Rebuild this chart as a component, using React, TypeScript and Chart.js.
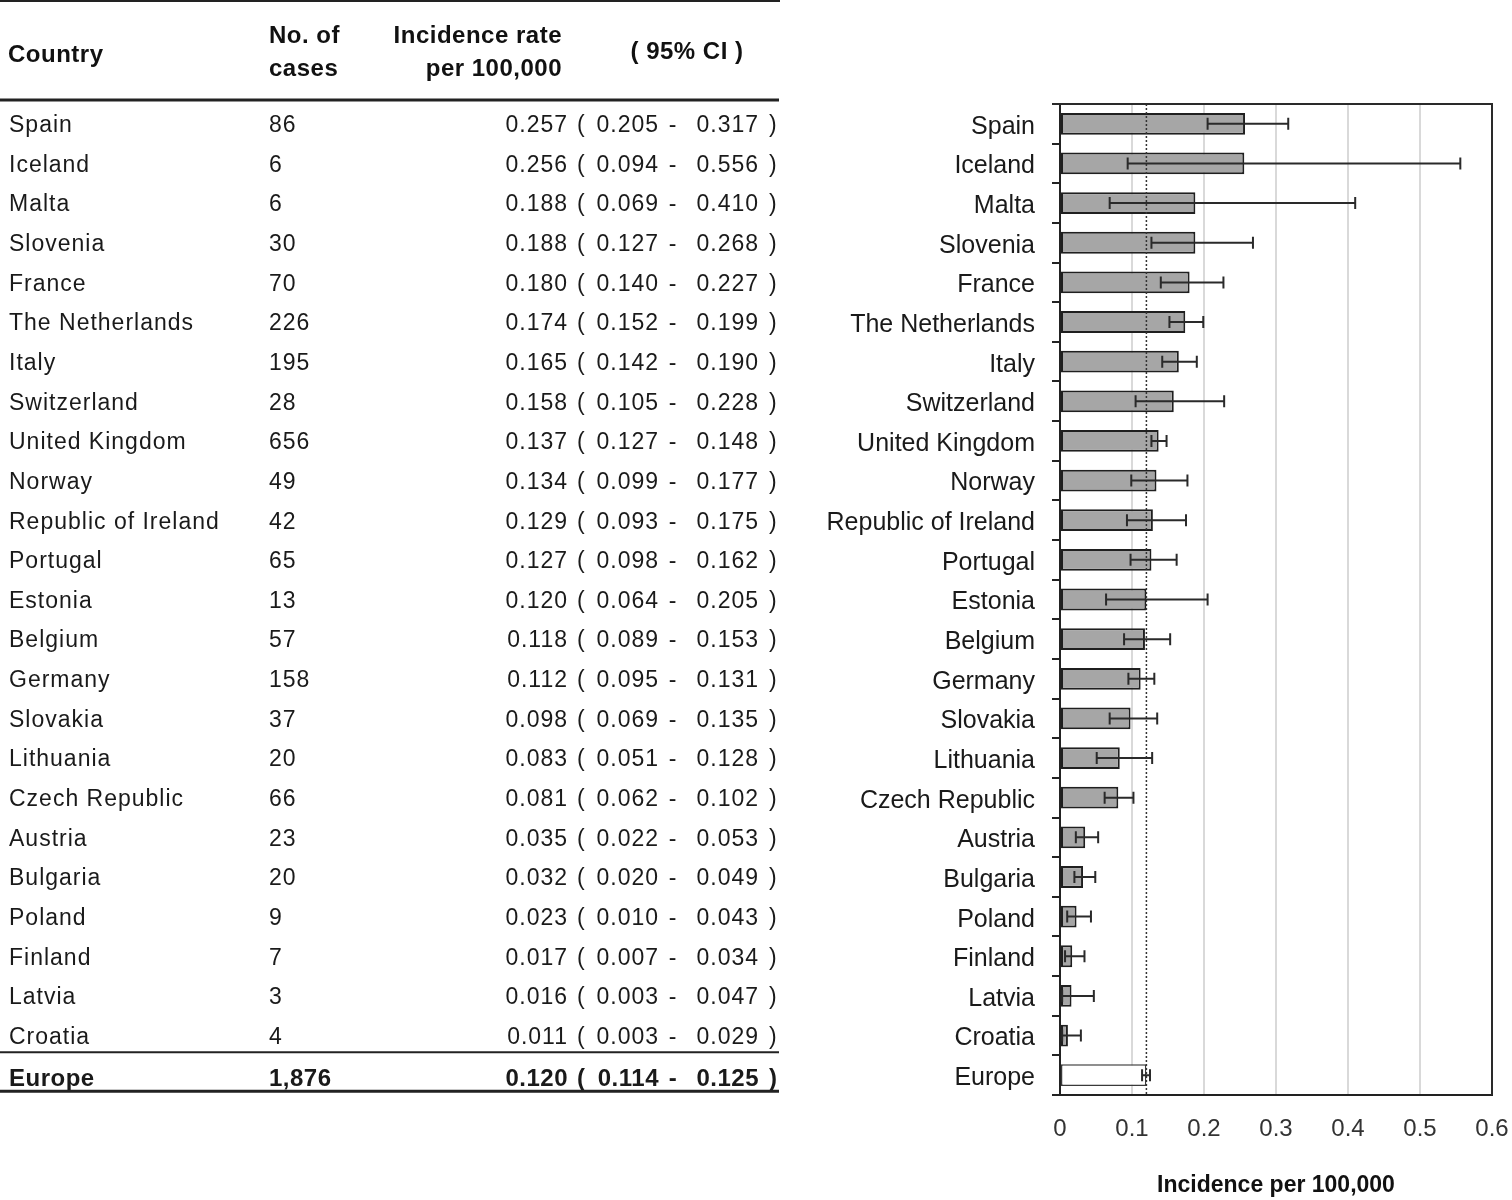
import React, { useEffect, useRef } from 'react';
import { Chart, registerables } from 'chart.js';

Chart.register(...registerables);

const countries = [
  'Spain', 'Iceland', 'Malta', 'Slovenia', 'France', 'The Netherlands', 'Italy',
  'Switzerland', 'United Kingdom', 'Norway', 'Republic of Ireland', 'Portugal',
  'Estonia', 'Belgium', 'Germany', 'Slovakia', 'Lithuania', 'Czech Republic',
  'Austria', 'Bulgaria', 'Poland', 'Finland', 'Latvia', 'Croatia', 'Europe',
];
const cases = [86, 6, 6, 30, 70, 226, 195, 28, 656, 49, 42, 65, 13, 57, 158, 37, 20, 66, 23, 20, 9, 7, 3, 4, 1876];
const rates = [0.257, 0.256, 0.188, 0.188, 0.18, 0.174, 0.165, 0.158, 0.137, 0.134, 0.129, 0.127, 0.12, 0.118, 0.112, 0.098, 0.083, 0.081, 0.035, 0.032, 0.023, 0.017, 0.016, 0.011, 0.12];
const ciLow = [0.205, 0.094, 0.069, 0.127, 0.14, 0.152, 0.142, 0.105, 0.127, 0.099, 0.093, 0.098, 0.064, 0.089, 0.095, 0.069, 0.051, 0.062, 0.022, 0.02, 0.01, 0.007, 0.003, 0.003, 0.114];
const ciHigh = [0.317, 0.556, 0.41, 0.268, 0.227, 0.199, 0.19, 0.228, 0.148, 0.177, 0.175, 0.162, 0.205, 0.153, 0.131, 0.135, 0.128, 0.102, 0.053, 0.049, 0.043, 0.034, 0.047, 0.029, 0.125];
const xTickLabels = ['0', '0.1', '0.2', '0.3', '0.4', '0.5', '0.6'];
const headerCountry = 'Country';
const headerCases = ['No. of', 'cases'];
const headerRate = ['Incidence rate', 'per 100,000'];
const headerCI = '( 95% CI )';
const axisTitle = 'Incidence per 100,000';

const TOTAL_INDEX = countries.length - 1;
const FONT = '"Liberation Sans", Arial, sans-serif';

export default function App() {
  const ref = useRef<HTMLCanvasElement>(null);

  useEffect(() => {
    const canvas = ref.current;
    if (!canvas) return;

    const errorBars = {
      id: 'errorBars',
      afterDatasetsDraw(chart: any) {
        const { ctx, chartArea } = chart;
        const xs = chart.scales.x;
        const ys = chart.scales.y;
        ctx.save();
        // reference dotted line at overall rate
        const xr = xs.getPixelForValue(rates[TOTAL_INDEX]);
        ctx.strokeStyle = '#333333';
        ctx.lineWidth = 1.5;
        ctx.setLineDash([2, 2]);
        ctx.beginPath();
        ctx.moveTo(xr, chartArea.top);
        ctx.lineTo(xr, chartArea.bottom);
        ctx.stroke();
        ctx.setLineDash([]);
        // error bars
        ctx.strokeStyle = '#2a2a2a';
        ctx.lineWidth = 2;
        for (let i = 0; i < countries.length; i++) {
          const y = ys.getPixelForValue(i);
          const x1 = xs.getPixelForValue(ciLow[i]);
          const x2 = xs.getPixelForValue(ciHigh[i]);
          ctx.beginPath();
          ctx.moveTo(x1, y);
          ctx.lineTo(x2, y);
          ctx.moveTo(x1, y - 6);
          ctx.lineTo(x1, y + 6);
          ctx.moveTo(x2, y - 6);
          ctx.lineTo(x2, y + 6);
          ctx.stroke();
        }
        ctx.restore();
      },
    };

    const frame = {
      id: 'frame',
      afterDraw(chart: any) {
        const { ctx, chartArea } = chart;
        ctx.save();
        ctx.strokeStyle = '#2a2a2a';
        ctx.lineWidth = 2;
        ctx.beginPath();
        ctx.moveTo(chartArea.left - 8, chartArea.top);
        ctx.lineTo(chartArea.right, chartArea.top);
        ctx.lineTo(chartArea.right, chartArea.bottom);
        ctx.stroke();
        ctx.restore();
      },
    };

    const table = {
      id: 'table',
      afterDraw(chart: any) {
        const { ctx } = chart;
        const ys = chart.scales.y;
        ctx.save();
        ctx.fillStyle = '#111111';
        ctx.textBaseline = 'middle';
        // header
        ctx.font = `bold 24px ${FONT}`;
        (ctx as any).letterSpacing = '0.5px';
        ctx.textAlign = 'left';
        ctx.fillText(headerCountry, 8, 55);
        ctx.fillText(headerCases[0], 269, 36);
        ctx.fillText(headerCases[1], 269, 69);
        ctx.textAlign = 'right';
        ctx.fillText(headerRate[0], 562, 36);
        ctx.fillText(headerRate[1], 562, 69);
        ctx.textAlign = 'center';
        ctx.fillText(headerCI, 687, 52);

        // rows
        for (let i = 0; i < countries.length; i++) {
          const bold = i === TOTAL_INDEX;
          const y = ys.getPixelForValue(i) + (bold ? 4 : 2);
          ctx.font = `${bold ? 'bold 24px' : '23px'} ${FONT}`;
          (ctx as any).letterSpacing = bold ? '0.5px' : '1px';
          ctx.fillStyle = '#1a1a1a';
          ctx.textAlign = 'left';
          ctx.fillText(countries[i], 9, y);
          ctx.fillText(cases[i].toLocaleString('en-US'), 269, y);
          ctx.textAlign = 'right';
          ctx.fillText(rates[i].toFixed(3), 568, y);
          ctx.fillText(ciLow[i].toFixed(3), 659, y);
          ctx.fillText(ciHigh[i].toFixed(3), 759, y);
          ctx.textAlign = 'left';
          ctx.fillText('(', 577, y);
          ctx.fillText(')', 769, y);
          ctx.textAlign = 'center';
          ctx.fillText('-', 673, y);
        }

        // rules
        ctx.strokeStyle = '#222222';
        ctx.lineWidth = 2;
        ctx.beginPath();
        ctx.moveTo(0, 1);
        ctx.lineTo(780, 1);
        ctx.stroke();
        ctx.lineWidth = 3;
        ctx.beginPath();
        ctx.moveTo(0, 100);
        ctx.lineTo(779, 100);
        ctx.stroke();
        const sepY = (ys.getPixelForValue(TOTAL_INDEX - 1) + ys.getPixelForValue(TOTAL_INDEX)) / 2 - 3;
        ctx.lineWidth = 2;
        ctx.beginPath();
        ctx.moveTo(0, sepY);
        ctx.lineTo(779, sepY);
        ctx.stroke();
        const endY = ys.getPixelForValue(TOTAL_INDEX) + 16;
        ctx.lineWidth = 3;
        ctx.beginPath();
        ctx.moveTo(0, endY);
        ctx.lineTo(779, endY);
        ctx.stroke();
        ctx.restore();
      },
    };

    const chart = new Chart(canvas, {
      type: 'bar',
      data: {
        labels: countries,
        datasets: [
          {
            data: rates,
            backgroundColor: countries.map((_, i) => (i === TOTAL_INDEX ? '#ffffff' : '#a6a6a6')),
            borderColor: countries.map((_, i) => (i === TOTAL_INDEX ? '#3a3a3a' : '#1f1f1f')),
            borderWidth: countries.map((_, i) => (i === TOTAL_INDEX ? 1.5 : 2)),
            borderSkipped: false,
            barPercentage: 0.55,
            categoryPercentage: 1,
          },
        ],
      },
      options: {
        indexAxis: 'y',
        animation: false,
        responsive: false,
        devicePixelRatio: 1,
        layout: { padding: { top: 104, right: 20, left: 0, bottom: 0 } },
        plugins: {
          legend: { display: false },
          tooltip: { enabled: false },
        },
        scales: {
          x: {
            type: 'linear',
            min: 0,
            max: 0.6,
            afterFit: (s: any) => {
              s.height = 105;
            },
            ticks: {
              stepSize: 0.1,
              font: { family: FONT, size: 24 },
              color: '#333333',
              padding: 0,
              callback: (_v: any, i: number) => xTickLabels[i],
            },
            grid: { color: '#d9d9d9', lineWidth: 2, drawTicks: true, tickLength: 20, tickColor: 'rgba(0,0,0,0)' },
            border: { color: '#222222', width: 2 },
            title: {
              display: true,
              text: axisTitle,
              font: { family: FONT, size: 23, weight: 'bold' },
              color: '#111111',
              padding: { top: 0, bottom: 1 },
            },
          },
          y: {
            afterFit: (s: any) => {
              s.width = 1060;
            },
            ticks: {
              font: { family: FONT, size: 25 },
              color: '#1a1a1a',
              padding: 17,
              labelOffset: 3,
              autoSkip: false,
            },
            grid: { drawOnChartArea: false, tickLength: 8, color: '#222222', lineWidth: 2 },
            border: { color: '#222222', width: 2 },
          },
        },
      },
      plugins: [errorBars, frame, table],
    } as any);

    return () => chart.destroy();
  }, []);

  return (
    <div style={{ position: 'absolute', left: 0, top: 0, width: 1512, height: 1200, background: '#ffffff' }}>
      <canvas ref={ref} width={1512} height={1200} style={{ display: 'block' }} />
    </div>
  );
}
